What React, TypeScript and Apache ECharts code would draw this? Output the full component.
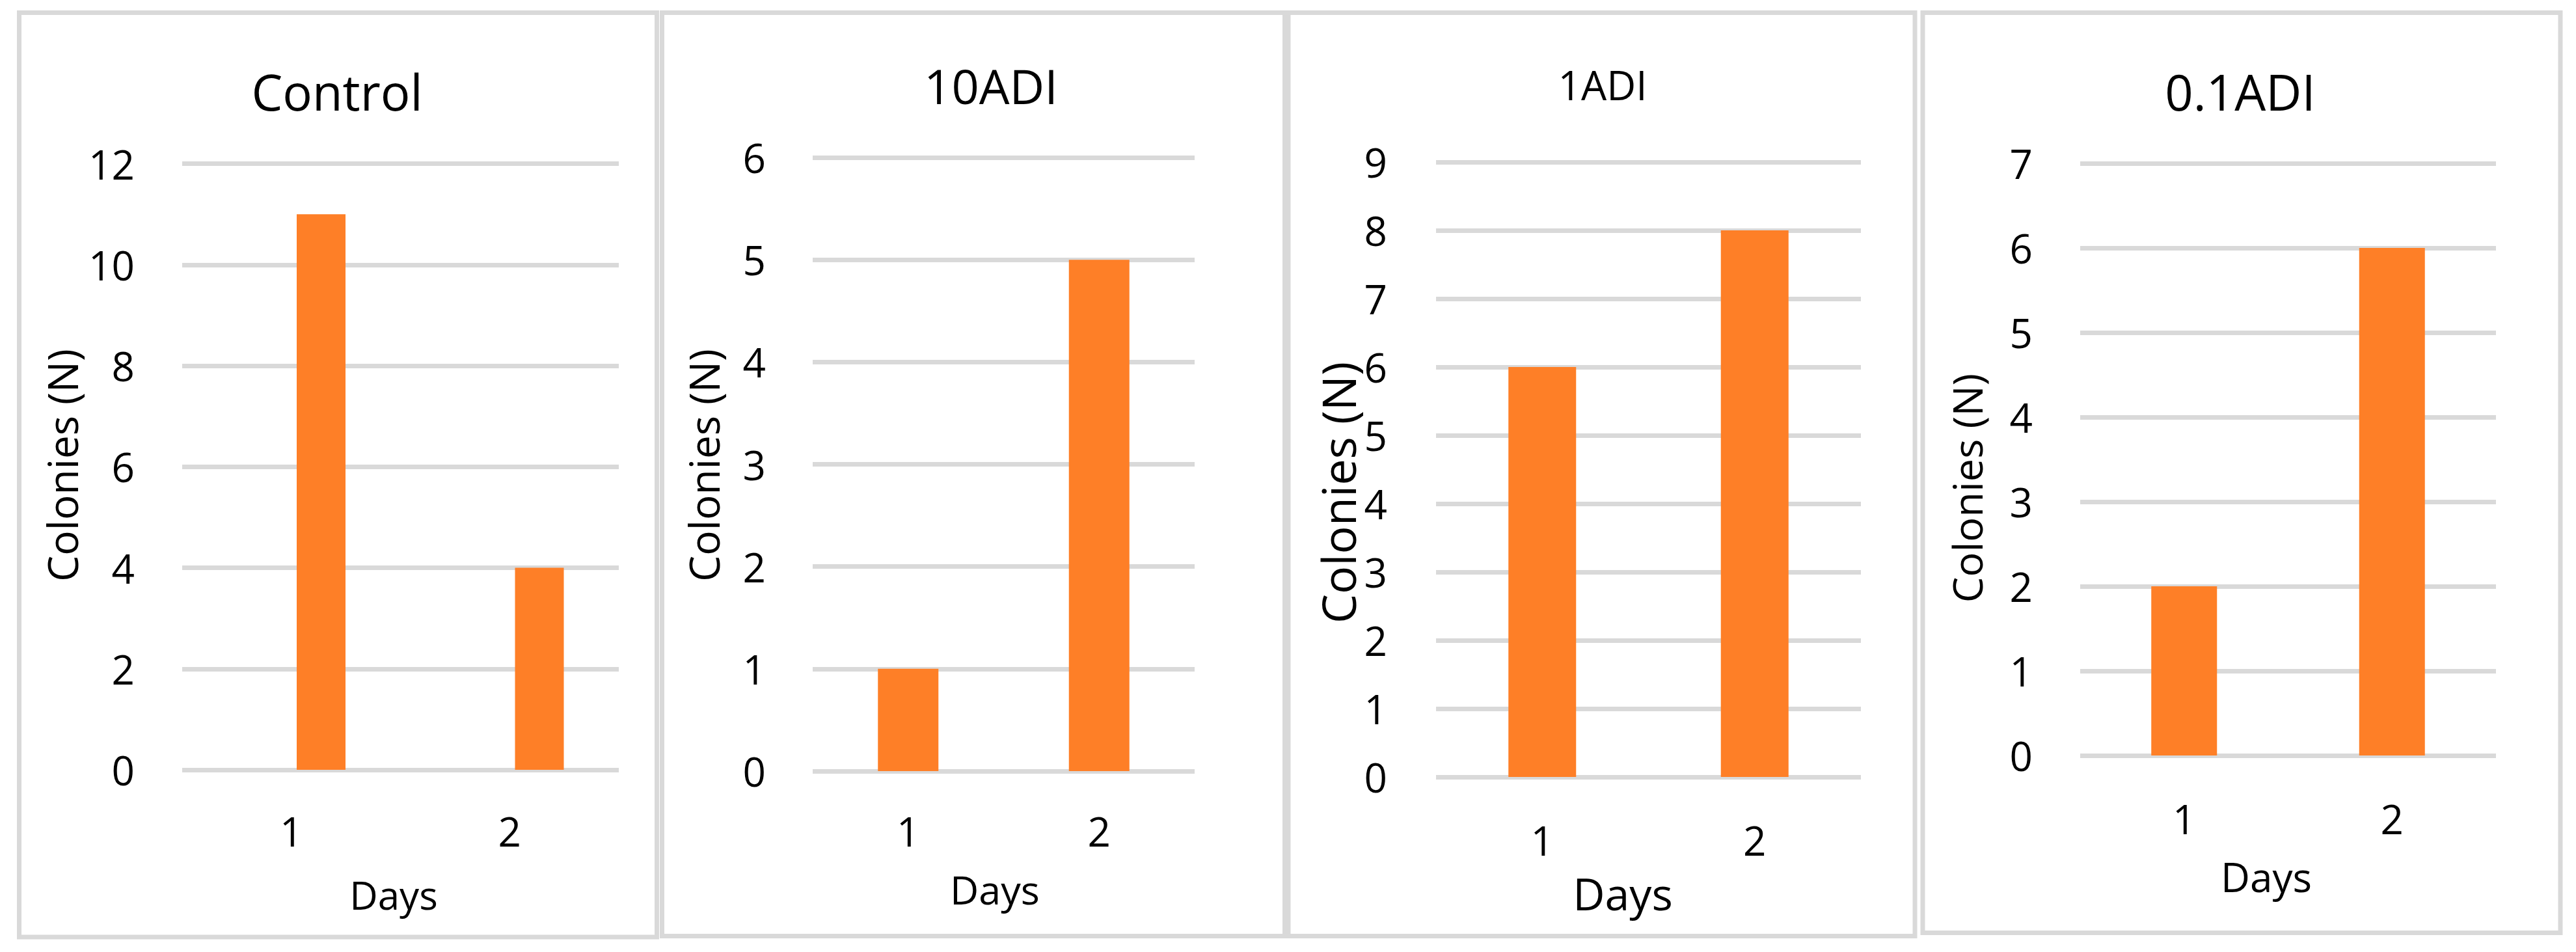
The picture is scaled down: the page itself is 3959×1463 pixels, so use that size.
import React, { useEffect, useRef } from 'react';
import * as echarts from 'echarts';

// ---- data ----
const days = ['1', '2'];
const controlColonies = [11, 4];
const adi10Colonies = [1, 5];
const adi1Colonies = [6, 8];
const adi01Colonies = [2, 6];
const panelTitles = ['Control', '10ADI', '1ADI', '0.1ADI'];
const yMaxima = [12, 6, 9, 7];
const yIntervals = [2, 1, 1, 1];
const yAxisName = 'Colonies (N)';
const xAxisName = 'Days';

const panelValues = [controlColonies, adi10Colonies, adi1Colonies, adi01Colonies];

// ---- layout (pixels) ----
const layout = [
  { box: [29.5, 19.5, 980, 1420.5], grid: [280, 251.5, 671, 931.5], title: [518, 140, 76], yName: [95, 715, 64], xName: [605, 1375, 60], barWidth: 75, xMargin: 63, yMargin: 73, shifted: true },
  { box: [1017.5, 19.5, 957, 1419], grid: [1249, 242, 587, 943], title: [1523, 131, 74], yName: [1081, 715, 64], xName: [1529, 1366, 61], barWidth: 93, xMargin: 61, yMargin: 72, shifted: false },
  { box: [1980, 19.5, 963, 1419], grid: [2207, 249, 653, 945], title: [2463, 130, 62], yName: [2056, 757, 72], xName: [2494, 1372, 68], barWidth: 104, xMargin: 66, yMargin: 75, shifted: false },
  { box: [2955, 19.5, 980, 1414], grid: [3197, 251, 639, 910], title: [3443, 140, 76], yName: [3022, 750, 63], xName: [3483, 1347, 62], barWidth: 101, xMargin: 66, yMargin: 73, shifted: false },
];

const FONT = 'Open Sans';
const BAR_COLOR = '#FE7F27';
const GRID_COLOR = '#D9D9D9';

function buildOption() {
  const grid: any[] = [];
  const xAxis: any[] = [];
  const yAxis: any[] = [];
  const series: any[] = [];
  const graphic: any[] = [];

  layout.forEach((p, i) => {
    grid.push({
      left: p.grid[0],
      top: p.grid[1],
      width: p.grid[2],
      height: p.grid[3],
      containLabel: false,
      outerBoundsMode: 'none',
    });
    xAxis.push({
      type: 'category',
      gridIndex: i,
      data: days,
      axisLine: { show: false },
      axisTick: { show: false },
      axisLabel: { color: '#000', fontFamily: FONT, fontSize: 62, margin: p.xMargin },
    });
    yAxis.push({
      type: 'value',
      gridIndex: i,
      min: 0,
      max: yMaxima[i],
      interval: yIntervals[i],
      axisLine: { show: false },
      axisTick: { show: false },
      axisLabel: { color: '#000', fontFamily: FONT, fontSize: 62, margin: p.yMargin },
      splitLine: { show: true, lineStyle: { color: GRID_COLOR, width: 7 } },
    });
    if (p.shifted) {
      series.push({
        type: 'bar',
        name: 'blank',
        xAxisIndex: i,
        yAxisIndex: i,
        data: days.map(() => null),
        barWidth: p.barWidth,
        barGap: '22%',
        itemStyle: { color: 'transparent' },
        silent: true,
      });
    }
    series.push({
      type: 'bar',
      name: panelTitles[i],
      xAxisIndex: i,
      yAxisIndex: i,
      data: panelValues[i],
      barWidth: p.barWidth,
      barGap: '22%',
      itemStyle: { color: BAR_COLOR },
    });

    graphic.push({
      type: 'rect',
      shape: { x: p.box[0], y: p.box[1], width: p.box[2], height: p.box[3] },
      style: { fill: 'none', stroke: GRID_COLOR, lineWidth: 7 },
      silent: true,
      z: -1,
    });
    graphic.push({
      type: 'text',
      x: p.title[0],
      y: p.title[1],
      style: {
        text: panelTitles[i],
        fill: '#000',
        font: `${p.title[2]}px "${FONT}"`,
        align: 'center',
        verticalAlign: 'middle',
      },
    });
    graphic.push({
      type: 'text',
      x: p.yName[0],
      y: p.yName[1],
      rotation: Math.PI / 2,
      style: {
        text: yAxisName,
        fill: '#000',
        font: `${p.yName[2]}px "${FONT}"`,
        align: 'center',
        verticalAlign: 'middle',
      },
    });
    graphic.push({
      type: 'text',
      x: p.xName[0],
      y: p.xName[1],
      style: {
        text: xAxisName,
        fill: '#000',
        font: `${p.xName[2]}px "${FONT}"`,
        align: 'center',
        verticalAlign: 'middle',
      },
    });
  });

  return {
    animation: false,
    backgroundColor: '#ffffff',
    grid,
    xAxis,
    yAxis,
    series,
    graphic,
  };
}

export default function App() {
  const ref = useRef<HTMLDivElement>(null);
  useEffect(() => {
    document.body.style.margin = '0';
    if (!ref.current) return;
    const chart = echarts.init(ref.current, null, { renderer: 'svg' });
    chart.setOption(buildOption() as any);
    return () => chart.dispose();
  }, []);
  return <div ref={ref} style={{ width: 3959, height: 1463 }} />;
}
